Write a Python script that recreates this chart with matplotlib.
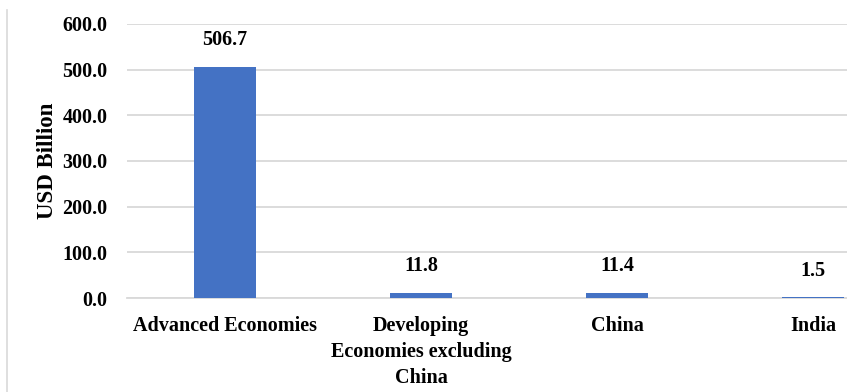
import matplotlib
matplotlib.use("Agg")
import matplotlib.pyplot as plt
from matplotlib.lines import Line2D

# flows by region, USD billion
regions = ["Advanced Economies", "Developing\nEconomies excluding\nChina", "China", "India"]
values = [506.7, 11.8, 11.4, 1.5]
yticks = [0, 100, 200, 300, 400, 500, 600]

plt.rcParams["font.family"] = ["Liberation Serif", "DejaVu Serif"]
plt.rcParams["font.weight"] = "bold"

fig = plt.figure(figsize=(8.47, 3.92), dpi=100)
# plot area runs past the right edge of the figure
ax = fig.add_axes([127/847, 94/392, 784/847, 274/392])

x = list(range(len(regions)))
bars = ax.bar(x, values, width=0.316, color="#4472C4", zorder=3)
for xi, v in zip(x, values):
    ax.annotate(f"{v:.1f}", (xi, v), xytext=(0, 19), textcoords="offset points",
                ha="center", va="center", fontsize=14.5, fontweight="bold")

ax.set_xlim(-0.5, 3.5)
ax.set_ylim(0, 600)
ax.set_yticks(yticks)
ax.set_yticklabels([f"{t:.1f}" for t in yticks], fontsize=14.5, fontweight="bold")
ax.set_xticks(x)
ax.set_xticklabels(regions, fontsize=14.5, fontweight="bold", linespacing=1.4, va="top")
ax.tick_params(axis="both", length=0)
ax.tick_params(axis="y", pad=14)
ax.tick_params(axis="x", pad=13)
ax.grid(axis="y", color="#d9d9d9", linewidth=1.3, zorder=0)
for side in ["top", "right", "left"]:
    ax.spines[side].set_visible(False)
ax.spines["bottom"].set_color("#d9d9d9")
ax.spines["bottom"].set_linewidth(1.3)
ax.set_ylabel("USD Billion", fontsize=16.5, fontweight="bold", labelpad=3)

# thin frame line at the far left
fig.add_artist(Line2D([7/847, 7/847], [0, 382/392], color="#d9d9d9", linewidth=1.2))

fig.savefig("out.png", dpi=100)
